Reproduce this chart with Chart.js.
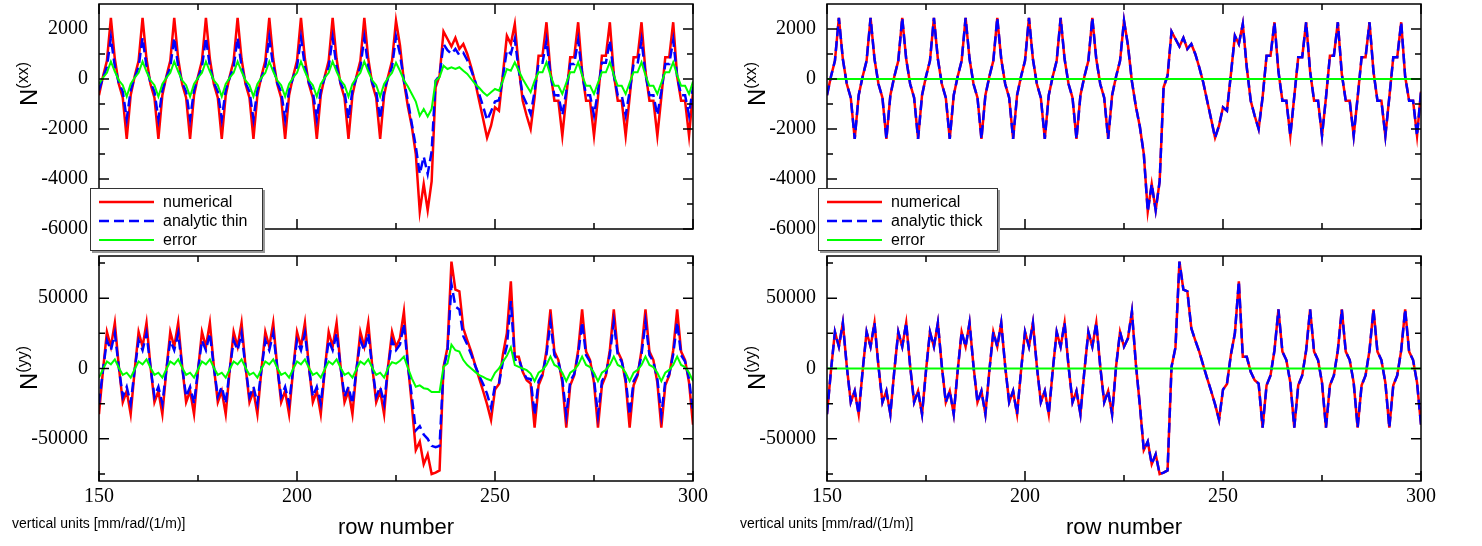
<!DOCTYPE html>
<html>
<head>
<meta charset="utf-8">
<script src="https://cdn.jsdelivr.net/npm/chart.js@4.4.1/dist/chart.umd.min.js"></script>
<style>
body { margin: 0; background: #fff; width: 1482px; height: 546px; position: relative; overflow: hidden; font-family: 'Liberation Sans', Arial, sans-serif; color: #000; }
canvas { position: absolute; }
.ytitle { position: absolute; transform: translate(-50%, -50%) rotate(-90deg); font-size: 24px; white-space: nowrap; line-height: 1; }
.ytitle sup { font-size: 16px; }
.xtitle { position: absolute; transform: translate(-50%, -50%); font-size: 22px; white-space: nowrap; }
.units { position: absolute; transform: translateY(-50%); font-size: 14px; white-space: nowrap; }
.legend { position: absolute; background: #fff; border: 1px solid #333; box-shadow: 2px 2px 0 #999; }
.legend svg { position: absolute; left: 7px; }
.legend span { position: absolute; left: 72px; font-size: 16px; white-space: nowrap; transform: translateY(-50%); }
</style>
</head>
<body>
<canvas id="topLeft" width="720" height="240" style="left:0px;top:0px"></canvas>
<canvas id="bottomLeft" width="720" height="296" style="left:0px;top:250px"></canvas>
<canvas id="topRight" width="720" height="240" style="left:728px;top:0px"></canvas>
<canvas id="bottomRight" width="720" height="296" style="left:728px;top:250px"></canvas>

<div class="ytitle" style="left:28px;top:84px">N<sup>(xx)</sup></div>
<div class="ytitle" style="left:28px;top:368px">N<sup>(yy)</sup></div>
<div class="ytitle" style="left:756px;top:84px">N<sup>(xx)</sup></div>
<div class="ytitle" style="left:756px;top:368px">N<sup>(yy)</sup></div>

<div class="xtitle" style="left:396px;top:527px">row number</div>
<div class="xtitle" style="left:1124px;top:527px">row number</div>
<div class="units" style="left:12px;top:523px">vertical units [mm/rad/(1/m)]</div>
<div class="units" style="left:740px;top:523px">vertical units [mm/rad/(1/m)]</div>

<div class="legend" style="left:90px;top:188px;width:171px;height:61px">
  <svg width="58" height="61"><line x1="1" y1="13" x2="56" y2="13" stroke="#ff0000" stroke-width="2.5"/><line x1="1" y1="32" x2="56" y2="32" stroke="#0000ff" stroke-width="2.5" stroke-dasharray="10 5"/><line x1="1" y1="51" x2="56" y2="51" stroke="#00ff00" stroke-width="2"/></svg>
  <span style="top:13px">numerical</span>
  <span style="top:32px">analytic thin</span>
  <span style="top:51px">error</span>
</div>
<div class="legend" style="left:818px;top:188px;width:178px;height:61px">
  <svg width="58" height="61"><line x1="1" y1="13" x2="56" y2="13" stroke="#ff0000" stroke-width="2.5"/><line x1="1" y1="32" x2="56" y2="32" stroke="#0000ff" stroke-width="2.5" stroke-dasharray="10 5"/><line x1="1" y1="51" x2="56" y2="51" stroke="#00ff00" stroke-width="2"/></svg>
  <span style="top:13px">numerical</span>
  <span style="top:32px">analytic thick</span>
  <span style="top:51px">error</span>
</div>

<script>
// rows 150..300
let rows = Array.from({length: 151}, (_, i) => 150 + i);

let xTicks = [150, 200, 250, 300];
let xMinor = [175, 225, 275];
let yTicksXX = [-6000, -4000, -2000, 0, 2000];
let yMinorXX = [-5000, -3000, -1000, 1000];
let yTicksYY = [-50000, 0, 50000];
let yMinorYY = [-75000, -25000, 25000, 75000];

let numericalXX = [
    -650, 100, 730,                                // 150-152
    2450, 800, -200, -750, -2400, -650, 100, 730,  // 153-160
    2450, 800, -200, -750, -2400, -650, 100, 730,  // 161-168
    2450, 800, -200, -750, -2400, -650, 100, 730,  // 169-176
    2450, 800, -200, -750, -2400, -650, 100, 730,  // 177-184
    2450, 800, -200, -750, -2400, -650, 100, 730,  // 185-192
    2450, 800, -200, -750, -2400, -650, 100, 730,  // 193-200
    2450, 800, -200, -750, -2400, -650, 100, 730,  // 201-208
    2450, 800, -200, -750, -2400, -650, 100, 730,  // 209-216
    2450, 800, -200, -750, -2400, -650, 100, 730,  // 217-224
    2330, 1350, -100, -1100, -1900, -3000, -5300, -4200, -5250, -4100, -330, 130,  // 225-236
    1900, 1600, 1300, 1650, 1200, 1400, 1000, 470, -130, -870, -1600, -2350,       // 237-248
    -1870, -1130, -1270, 200, 1730, 1400, 2200, 470, -870, -1470, -2000, -730,     // 249-260
    930, 930, 2270, 300, -870, -870, -2270, -700,  // 261-268
    870, 870, 2270, 300, -870, -870, -2270, -750,  // 269-276
    930, 930, 2270, 200, -870, -870, -2270, -730,  // 277-284
    870, 870, 2270, 300, -870, -870, -2270, -730,  // 285-292
    870, 870, 2270, 100, -870, -870, -2270, -500   // 293-300
];

let analyticThinXX = [
    -450, 50, 480,
    1650, 500, -150, -500, -1600, -450, 50, 480,
    1650, 500, -150, -500, -1600, -450, 50, 480,
    1650, 500, -150, -500, -1600, -450, 50, 480,
    1650, 500, -150, -500, -1600, -450, 50, 480,
    1650, 500, -150, -500, -1600, -450, 50, 480,
    1650, 500, -150, -500, -1600, -450, 50, 480,
    1650, 500, -150, -500, -1600, -450, 50, 480,
    1650, 500, -150, -500, -1600, -450, 50, 480,
    1650, 500, -150, -500, -1600, -450, 50, 480,
    1700, 1000, -70, -870, -1800, -2700, -3800, -3100, -3800, -2900, -70, 130,
    1400, 1150, 1000, 1200, 950, 1050, 750, 350, -100, -600, -1100, -1650,
    -1300, -900, -850, 100, 1150, 1000, 1600, 350, -650, -1000, -1400, -500,
    650, 650, 1550, 200, -650, -650, -1450, -500,
    600, 600, 1550, 200, -650, -650, -1450, -500,
    650, 650, 1550, 150, -650, -650, -1450, -500,
    600, 600, 1550, 200, -650, -650, -1450, -500,
    600, 600, 1550, 100, -650, -650, -1450, -300
];

let errorXX = [
    -200, 50, 250,
    700, 300, -50, -250, -700, -200, 50, 250,
    700, 300, -50, -250, -700, -200, 50, 250,
    700, 300, -50, -250, -700, -200, 50, 250,
    700, 300, -50, -250, -700, -200, 50, 250,
    700, 300, -50, -250, -700, -200, 50, 250,
    700, 300, -50, -250, -700, -200, 50, 250,
    700, 300, -50, -250, -700, -200, 50, 250,
    700, 300, -50, -250, -700, -200, 50, 250,
    700, 300, -50, -250, -700, -200, 50, 250,
    650, 330, -50, -300, -600, -900, -1470, -1200, -1500, -1200, -70, 70,
    530, 400, 470, 400, 470, 330, 200, 0, -200, -350, -530, -670,
    -530, -400, -470, -70, 400, 330, 670, 330, 0, -270, -530, -70,
    270, 270, 670, 150, -270, -270, -600, -150,
    270, 270, 670, 150, -270, -270, -600, -150,
    270, 270, 670, 150, -270, -270, -600, -150,
    270, 270, 670, 150, -270, -270, -600, -150,
    270, 270, 670, 150, -270, -270, -600, -100
];

let numericalYY = [
    -32500, -1500, 26000, 15500, 32500, 1500, -24000, -16000,  // 150-157
    -32500, -1500, 26000, 15500, 32500, 1500, -24000, -16000,  // 158-165
    -32500, -1500, 26000, 15500, 32500, 1500, -24000, -16000,  // 166-173
    -32500, -1500, 26000, 15500, 32500, 1500, -24000, -16000,  // 174-181
    -32500, -1500, 26000, 15500, 32500, 1500, -24000, -16000,  // 182-189
    -32500, -1500, 26000, 15500, 32500, 1500, -24000, -16000,  // 190-197
    -32500, -1500, 26000, 15500, 32500, 1500, -24000, -16000,  // 198-205
    -32500, -1500, 26000, 15500, 32500, 1500, -24000, -16000,  // 206-213
    -32500, -1500, 26000, 15500, 32500, 1500, -24000, -16000,  // 214-221
    -32500, 1500, 26000, 15500, 21500, 40500, 3000, -26000, -58000, -52000, -68000, -61000,  // 222-233
    -75000, -74000, -72500, 1200, 15000, 76000, 56000, 54800, 28600, 20000, 12000, 2400,    // 234-245
    -7000, -16000, -25500, -36500, -15000, -11000, 10000, 25000, 62000, 8300, 8300, -2400, -8300, -10700,  // 246-259
    -42000, -12000, -5000, 13000, 42000, 12000, 6000, -10000,  // 260-267
    -42000, -12000, -5000, 13000, 42000, 12000, 6000, -10000,  // 268-275
    -42000, -12000, -5000, 13000, 42000, 12000, 6000, -10000,  // 276-283
    -42000, -12000, -5000, 13000, 42000, 12000, 6000, -10000,  // 284-291
    -42000, -12000, -5000, 13000, 42000, 12000, 6000, -10000,  // 292-299
    -40000                                                     // 300
];

let analyticThinYY = [
    -25000, -1000, 20000, 13000, 25000, 1000, -20000, -13000,
    -25000, -1000, 20000, 13000, 25000, 1000, -20000, -13000,
    -25000, -1000, 20000, 13000, 25000, 1000, -20000, -13000,
    -25000, -1000, 20000, 13000, 25000, 1000, -20000, -13000,
    -25000, -1000, 20000, 13000, 25000, 1000, -20000, -13000,
    -25000, -1000, 20000, 13000, 25000, 1000, -20000, -13000,
    -25000, -1000, 20000, 13000, 25000, 1000, -20000, -13000,
    -25000, -1000, 20000, 13000, 25000, 1000, -20000, -13000,
    -25000, -1000, 20000, 13000, 25000, 1000, -20000, -13000,
    -25000, 1000, 20000, 13000, 17000, 32000, 2000, -20000, -44000, -41000, -47000, -50000,
    -55000, -56000, -55000, 0, 12000, 60000, 44000, 42000, 23000, 17000, 10000, 2000,
    -5000, -11000, -18000, -28000, -12000, -11000, 5000, 16000, 48000, 6000, 7000, -2000, -7000, -7500,
    -33000, -9000, -4000, 10000, 33000, 9500, 5000, -7500,
    -33000, -9000, -4000, 10000, 33000, 9500, 5000, -7500,
    -33000, -9000, -4000, 10000, 33000, 9500, 5000, -7500,
    -33000, -9000, -4000, 10000, 33000, 9500, 5000, -7500,
    -33000, -9000, -4000, 10000, 33000, 9500, 5000, -7500,
    -31000
];

let errorYY = [
    -6500, -500, 5000, 3000, 6500, 500, -4500, -3000,
    -6500, -500, 5000, 3000, 6500, 500, -4500, -3000,
    -6500, -500, 5000, 3000, 6500, 500, -4500, -3000,
    -6500, -500, 5000, 3000, 6500, 500, -4500, -3000,
    -6500, -500, 5000, 3000, 6500, 500, -4500, -3000,
    -6500, -500, 5000, 3000, 6500, 500, -4500, -3000,
    -6500, -500, 5000, 3000, 6500, 500, -4500, -3000,
    -6500, -500, 5000, 3000, 6500, 500, -4500, -3000,
    -6500, -500, 5000, 3000, 6500, 500, -4500, -3000,
    -6500, 500, 4500, 3500, 5500, 8500, 500, -7000, -13000, -12000, -14000, -14500,
    -16700, -16700, -16700, 1200, 3600, 17000, 13000, 12000, 6000, 2400, 0, -2400,
    -4800, -6000, -7500, -8500, -3100, 0, 4800, 9000, 15000, 2400, 1200, 0, -1200, -3600,
    -9000, -3000, -1000, 2500, 8500, 2500, 1000, -3000,
    -9000, -3000, -1000, 2500, 8500, 2500, 1000, -3000,
    -9000, -3000, -1000, 2500, 8500, 2500, 1000, -3000,
    -9000, -3000, -1000, 2500, 8500, 2500, 1000, -3000,
    -9000, -3000, -1000, 2500, 8500, 2500, 1000, -3000,
    -9000
];

// right column: thick-lens model sits on top of the numerical result
let analyticThickXX = [
    -650, 100, 730,
    2450, 800, -200, -750, -2400, -650, 100, 730,
    2450, 800, -200, -750, -2400, -650, 100, 730,
    2450, 800, -200, -750, -2400, -650, 100, 730,
    2450, 800, -200, -750, -2400, -650, 100, 730,
    2450, 800, -200, -750, -2400, -650, 100, 730,
    2450, 800, -200, -750, -2400, -650, 100, 730,
    2450, 800, -200, -750, -2400, -650, 100, 730,
    2450, 800, -200, -750, -2400, -650, 100, 730,
    2450, 800, -200, -750, -2400, -650, 100, 730,
    2330, 1350, -100, -1100, -1900, -3000, -5300, -4200, -5250, -4100, -330, 130,
    1900, 1600, 1300, 1650, 1200, 1400, 1000, 470, -130, -870, -1600, -2350,
    -1870, -1130, -1270, 200, 1730, 1400, 2200, 470, -870, -1470, -2000, -730,
    930, 930, 2270, 300, -870, -870, -2270, -700,
    870, 870, 2270, 300, -870, -870, -2270, -750,
    930, 930, 2270, 200, -870, -870, -2270, -730,
    870, 870, 2270, 300, -870, -870, -2270, -730,
    870, 870, 2270, 100, -870, -870, -2270, -500
];

let analyticThickYY = [
    -32500, -1500, 26000, 15500, 32500, 1500, -24000, -16000,
    -32500, -1500, 26000, 15500, 32500, 1500, -24000, -16000,
    -32500, -1500, 26000, 15500, 32500, 1500, -24000, -16000,
    -32500, -1500, 26000, 15500, 32500, 1500, -24000, -16000,
    -32500, -1500, 26000, 15500, 32500, 1500, -24000, -16000,
    -32500, -1500, 26000, 15500, 32500, 1500, -24000, -16000,
    -32500, -1500, 26000, 15500, 32500, 1500, -24000, -16000,
    -32500, -1500, 26000, 15500, 32500, 1500, -24000, -16000,
    -32500, -1500, 26000, 15500, 32500, 1500, -24000, -16000,
    -32500, 1500, 26000, 15500, 21500, 40500, 3000, -26000, -58000, -52000, -68000, -61000,
    -75000, -74000, -72500, 1200, 15000, 76000, 56000, 54800, 28600, 20000, 12000, 2400,
    -7000, -16000, -25500, -36500, -15000, -11000, 10000, 25000, 62000, 8300, 8300, -2400, -8300, -10700,
    -42000, -12000, -5000, 13000, 42000, 12000, 6000, -10000,
    -42000, -12000, -5000, 13000, 42000, 12000, 6000, -10000,
    -42000, -12000, -5000, 13000, 42000, 12000, 6000, -10000,
    -42000, -12000, -5000, 13000, 42000, 12000, 6000, -10000,
    -42000, -12000, -5000, 13000, 42000, 12000, 6000, -10000,
    -40000
];

let errorThick = [
    0, 0, 0, 0, 0, 0, 0, 0, 0, 0, 0, 0, 0, 0, 0, 0, 0, 0, 0, 0,
    0, 0, 0, 0, 0, 0, 0, 0, 0, 0, 0, 0, 0, 0, 0, 0, 0, 0, 0, 0,
    0, 0, 0, 0, 0, 0, 0, 0, 0, 0, 0, 0, 0, 0, 0, 0, 0, 0, 0, 0,
    0, 0, 0, 0, 0, 0, 0, 0, 0, 0, 0, 0, 0, 0, 0, 0, 0, 0, 0, 0,
    0, 0, 0, 0, 0, 0, 0, 0, 0, 0, 0, 0, 0, 0, 0, 0, 0, 0, 0, 0,
    0, 0, 0, 0, 0, 0, 0, 0, 0, 0, 0, 0, 0, 0, 0, 0, 0, 0, 0, 0,
    0, 0, 0, 0, 0, 0, 0, 0, 0, 0, 0, 0, 0, 0, 0, 0, 0, 0, 0, 0,
    0, 0, 0, 0, 0, 0, 0, 0, 0, 0, 0
];

let tickFont = { family: "'Liberation Serif', 'Times New Roman', serif", size: 20 };

// frame + inward tick marks on all four sides
const frameTicks = {
    id: 'frameTicks',
    afterDraw(chart, args, opts) {
        let ctx = chart.ctx;
        let a = chart.chartArea;
        let x = chart.scales.x;
        let y = chart.scales.y;
        ctx.save();
        ctx.strokeStyle = '#000';
        ctx.lineWidth = 1.5;
        ctx.beginPath();
        function xTick(v, len) {
            let px = x.getPixelForValue(v);
            ctx.moveTo(px, a.bottom); ctx.lineTo(px, a.bottom - len);
            ctx.moveTo(px, a.top); ctx.lineTo(px, a.top + len);
        }
        function yTick(v, len) {
            let py = y.getPixelForValue(v);
            ctx.moveTo(a.left, py); ctx.lineTo(a.left + len, py);
            ctx.moveTo(a.right, py); ctx.lineTo(a.right - len, py);
        }
        opts.xMajor.forEach(v => xTick(v, 10));
        opts.xMinor.forEach(v => xTick(v, 6));
        opts.yMajor.forEach(v => yTick(v, 10));
        opts.yMinor.forEach(v => yTick(v, 6));
        ctx.stroke();
        ctx.strokeRect(a.left, a.top, a.right - a.left, a.bottom - a.top);
        ctx.restore();
    }
};

function toPoints(values) {
    return values.map((v, i) => ({ x: rows[i], y: v }));
}

function makeChart(id, numerical, analytic, error, yMin, yMax, yTicks, yMinor, showX) {
    let ctx = document.getElementById(id).getContext('2d');
    let line = { pointRadius: 0, fill: false, tension: 0 };
    return new Chart(ctx, {
        type: 'line',
        data: {
            datasets: [
                Object.assign({ label: 'error', data: toPoints(error), borderColor: '#00ff00', borderWidth: 2 }, line),
                Object.assign({ label: 'analytic', data: toPoints(analytic), borderColor: '#0000ff', borderWidth: 2.5, borderDash: [10, 5] }, line),
                Object.assign({ label: 'numerical', data: toPoints(numerical), borderColor: '#ff0000', borderWidth: 2.5 }, line)
            ]
        },
        options: {
            responsive: false,
            animation: false,
            devicePixelRatio: 1,
            layout: { padding: { top: showX ? 6 : 4, right: 27, bottom: showX ? 0 : 11, left: 0 } },
            plugins: {
                legend: { display: false },
                tooltip: { enabled: false },
                frameTicks: { xMajor: xTicks, xMinor: xMinor, yMajor: yTicks, yMinor: yMinor }
            },
            scales: {
                x: {
                    type: 'linear',
                    min: 150,
                    max: 300,
                    grid: { display: false, drawTicks: false },
                    border: { display: false },
                    afterBuildTicks: s => { s.ticks = xTicks.map(v => ({ value: v })); },
                    afterFit: s => {
                        s.height = showX ? 65 : 0;
                        s.paddingLeft = 0;
                        s.paddingRight = 0;
                    },
                    ticks: { display: showX, font: tickFont, color: '#000', padding: 4, maxRotation: 0, autoSkip: false, callback: v => String(v) }
                },
                y: {
                    min: yMin,
                    max: yMax,
                    grid: { display: false, drawTicks: false },
                    border: { display: false },
                    afterBuildTicks: s => { s.ticks = yTicks.map(v => ({ value: v })); },
                    afterFit: s => {
                        s.width = 99;
                        s.paddingTop = 0;
                        s.paddingBottom = 0;
                    },
                    ticks: { font: tickFont, color: '#000', padding: 11, autoSkip: false, callback: v => String(v) }
                }
            }
        },
        plugins: [frameTicks]
    });
}

makeChart('topLeft', numericalXX, analyticThinXX, errorXX, -6000, 3000, yTicksXX, yMinorXX, false);
makeChart('bottomLeft', numericalYY, analyticThinYY, errorYY, -80000, 80000, yTicksYY, yMinorYY, true);
makeChart('topRight', numericalXX, analyticThickXX, errorThick, -6000, 3000, yTicksXX, yMinorXX, false);
makeChart('bottomRight', numericalYY, analyticThickYY, errorThick, -80000, 80000, yTicksYY, yMinorYY, true);
</script>
</body>
</html>
